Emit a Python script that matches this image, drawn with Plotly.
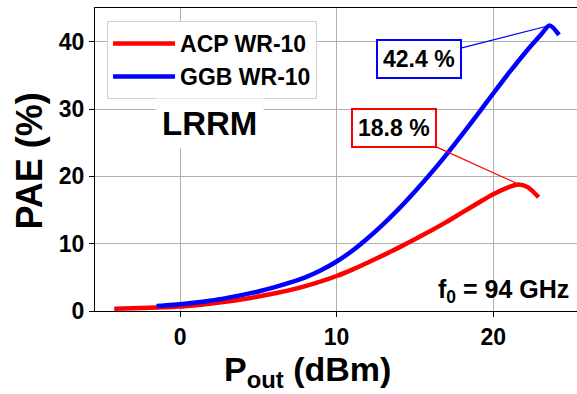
import plotly.graph_objects as go

# ACP WR-10 (red)
acp_pout = [-4.2, -3, -2, -1, 0, 1, 2, 3, 4, 5, 6, 7, 8, 9, 10, 11, 12, 13, 14, 15, 16, 17, 18, 19, 20, 21, 21.6, 22.2, 22.9]
acp_pae = [0.35, 0.4, 0.47, 0.55, 0.65, 0.85, 1.1, 1.4, 1.75, 2.15, 2.6, 3.1, 3.7, 4.4, 5.2, 6.15, 7.2, 8.3, 9.45, 10.65,
           11.9, 13.2, 14.6, 16.0, 17.35, 18.4, 18.8, 18.4, 16.9]

# GGB WR-10 (blue)
ggb_pout = [-1.5, -1, 0, 1, 2, 3, 4, 5, 6, 7, 8, 9, 10, 11, 12, 13, 14, 15, 16, 17, 18, 19, 20, 21, 22, 23, 23.6, 24.2]
ggb_pae = [0.75, 0.82, 1.0, 1.25, 1.55, 1.95, 2.4, 2.9, 3.5, 4.2, 5.0, 6.05, 7.35, 8.95, 10.85, 12.95, 15.25, 17.75,
           20.4, 23.2, 26.15, 29.2, 32.3, 35.35, 38.25, 40.9, 42.4, 41.0]

x_ticks = [0, 10, 20]
y_ticks = [0, 10, 20, 30, 40]

FONT = "Liberation Sans, Arial, sans-serif"

fig = go.Figure()
fig.add_trace(go.Scatter(x=acp_pout, y=acp_pae, mode="lines", name="ACP WR-10",
                         line=dict(color="#ff0000", width=4.5, shape="spline", smoothing=0.8)))
fig.add_trace(go.Scatter(x=ggb_pout, y=ggb_pae, mode="lines", name="GGB WR-10",
                         line=dict(color="#0000ff", width=4.5, shape="spline", smoothing=0.8)))

fig.update_layout(
    width=577, height=394,
    margin=dict(l=95, r=0, t=8, b=83),
    paper_bgcolor="white", plot_bgcolor="white",
    font=dict(family=FONT, color="black", weight="bold"),
    showlegend=True,
    legend=dict(x=0.025, y=0.957, xanchor="left", yanchor="top",
                bgcolor="white", bordercolor="#d0d0d0", borderwidth=1,
                font=dict(size=23, family=FONT, weight="bold"),
                itemwidth=62),
    xaxis=dict(range=[-5.43, 25.35], tickvals=x_ticks, showgrid=True,
               gridcolor="#b0b0b0", gridwidth=1, zeroline=False,
               showline=True, linecolor="black", linewidth=1.2, mirror=True,
               ticks="outside", ticklen=5, tickcolor="black",
               tickfont=dict(size=23, family=FONT, weight="bold")),
    yaxis=dict(range=[0, 45], tickvals=y_ticks, showgrid=True,
               gridcolor="#b0b0b0", gridwidth=1, zeroline=False,
               showline=True, linecolor="black", linewidth=1.2,
               ticks="outside", ticklen=5, tickcolor="black",
               tickfont=dict(size=23, family=FONT, weight="bold")),
)

# Axis titles as annotations
fig.add_annotation(xref="paper", yref="paper", x=(307.5 - 95) / 482, y=-0.2,
                   text="P<sub>out</sub> (dBm)", showarrow=False,
                   xanchor="center", yanchor="middle",
                   font=dict(size=34, family=FONT, weight="bold"))
fig.add_annotation(xref="paper", yref="paper", x=-(95 - 28.5) / 482, y=(311 - 161) / 303,
                   text="PAE (%)", showarrow=False, textangle=-90,
                   xanchor="center", yanchor="middle",
                   font=dict(size=36, family=FONT, weight="bold"))

# LRRM label
fig.add_annotation(xref="x", yref="y", x=1.85, y=27.9, text="LRRM", showarrow=False,
                   bgcolor="white", borderpad=6,
                   font=dict(size=33, family=FONT, weight="bold"))

# f0 label
fig.add_annotation(xref="x", yref="y", x=24.95, y=2.9, text="f<sub>0</sub> = 94 GHz",
                   showarrow=False, xanchor="right", yanchor="middle",
                   font=dict(size=25, family=FONT, weight="bold"))

# Peak annotations
fig.add_annotation(x=23.6, y=42.4, xref="x", yref="y", text="42.4 %",
                   axref="x", ayref="y", ax=15.25, ay=37.45,
                   showarrow=True, arrowhead=0, arrowwidth=1.2, arrowcolor="#0000ff",
                   bordercolor="#0000ff", borderwidth=2, borderpad=5, bgcolor="white",
                   font=dict(size=23, family=FONT, weight="bold"))
fig.add_annotation(x=21.58, y=18.87, xref="x", yref="y", text="18.8 %",
                   axref="x", ayref="y", ax=13.69, ay=27.2,
                   showarrow=True, arrowhead=0, arrowwidth=1.2, arrowcolor="#ff0000",
                   bordercolor="#ff0000", borderwidth=2, borderpad=5, bgcolor="white",
                   font=dict(size=23, family=FONT, weight="bold"))

fig.write_html("out.html", config={"displayModeBar": False},
               post_script="document.body.style.margin='0';document.body.style.overflow='hidden';")
